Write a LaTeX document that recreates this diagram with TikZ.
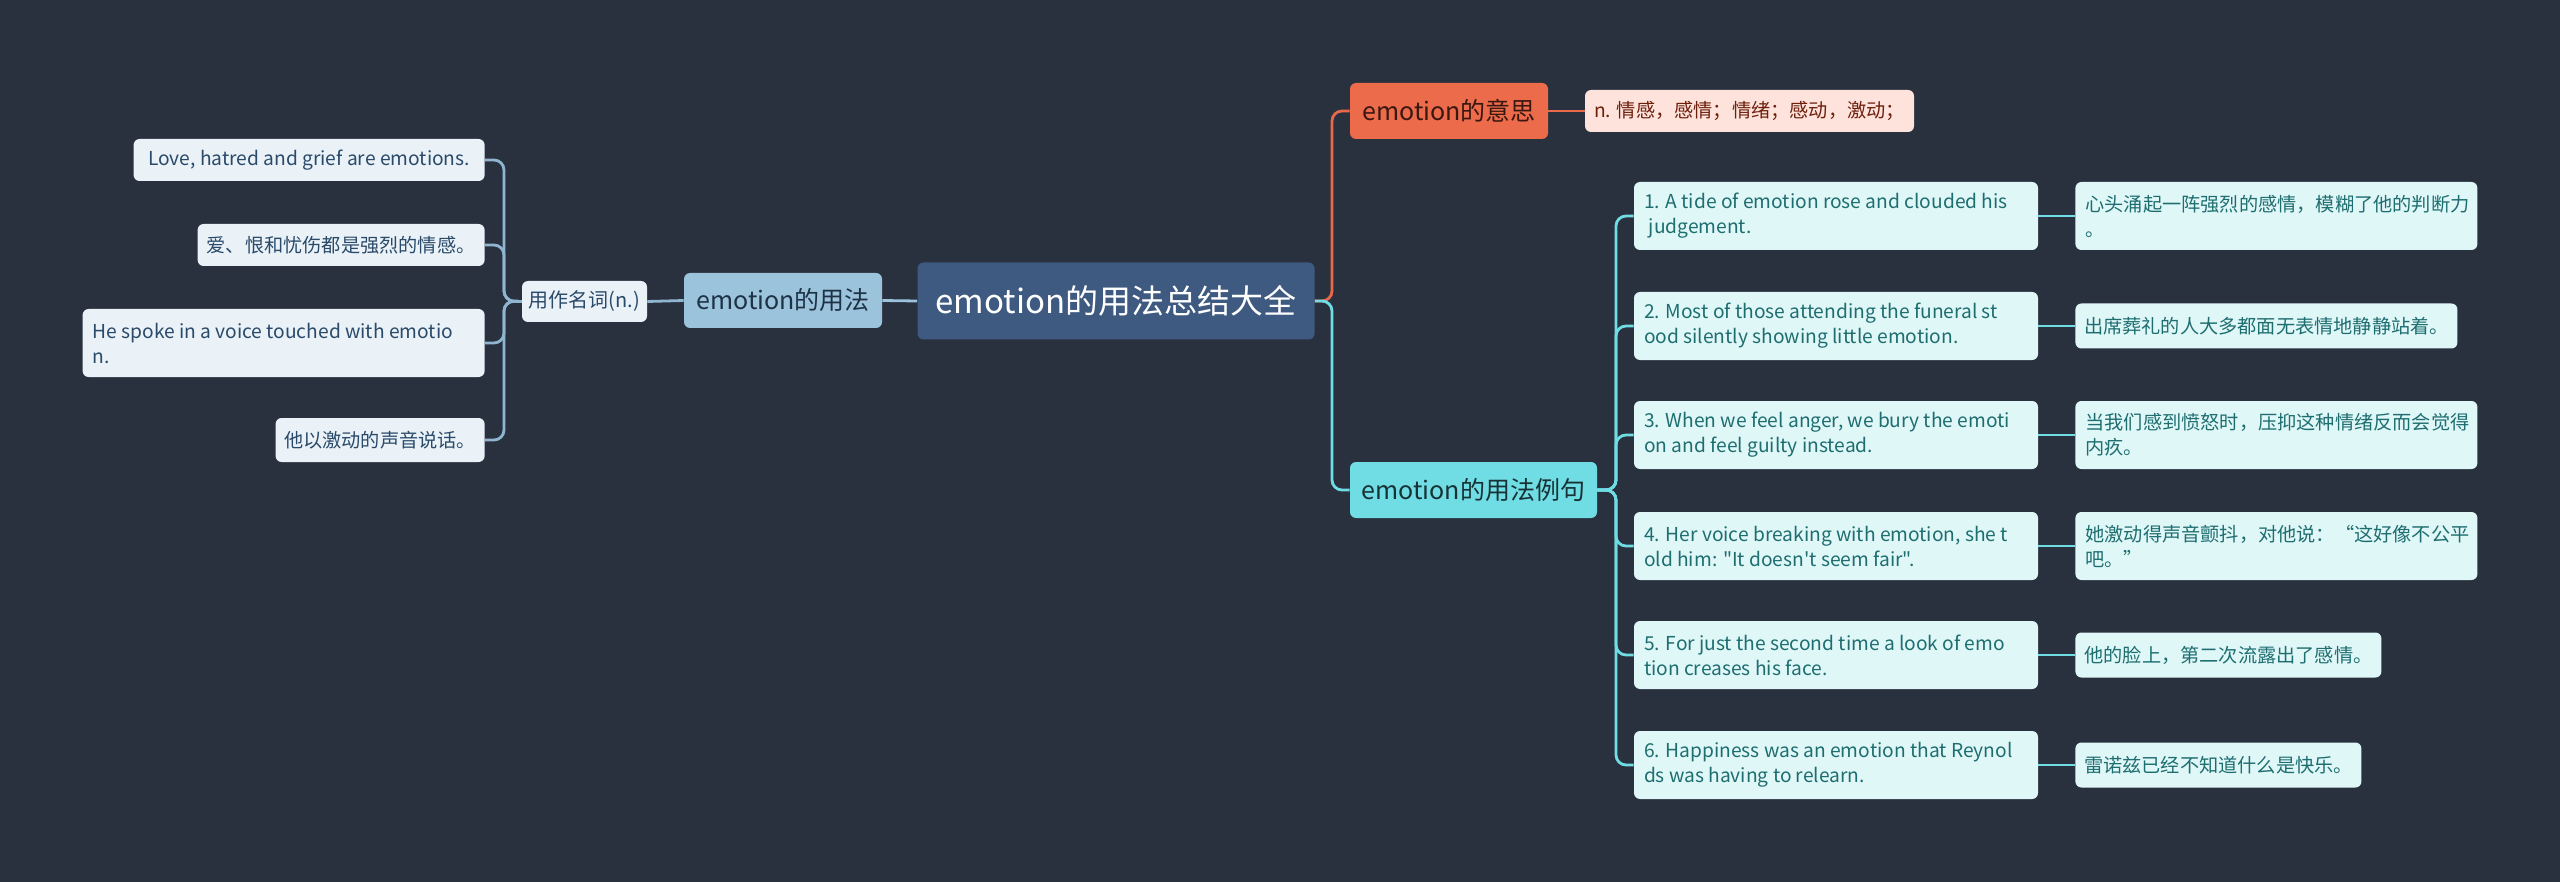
\documentclass[tikz,border=0pt]{standalone}
\usepackage{fontspec}
\setmainfont{Noto Sans CJK SC}[Ligatures=TeXOff]
\definecolor{bg}{HTML}{29313F}
\definecolor{cfill}{HTML}{3E5A80}
\definecolor{ufill}{HTML}{9CC3DC}
\definecolor{utext}{HTML}{1E3246}
\definecolor{lfill}{HTML}{EAF2F8}
\definecolor{ltext}{HTML}{2A4A6A}
\definecolor{ofill}{HTML}{EB6B4B}
\definecolor{otext}{HTML}{3A1710}
\definecolor{pfill}{HTML}{FDE3DC}
\definecolor{ptext}{HTML}{6E1F0C}
\definecolor{tfill}{HTML}{6FDDE3}
\definecolor{ttext}{HTML}{173236}
\definecolor{efill}{HTML}{E0F7F8}
\definecolor{etext}{HTML}{1E6E70}
\definecolor{lline}{HTML}{8FB5D0}
\definecolor{oline}{HTML}{E8694A}
\definecolor{tline}{HTML}{6FDDE3}
\begin{document}
\begin{tikzpicture}[x=0.5pt,y=-0.5pt,
  box/.style={rounded corners=3pt, inner sep=0pt, align=flush left},
  central/.style={box, fill=cfill, text=white, font=\fontsize{16.5pt}{20pt}\selectfont},
  main/.style={box, fill=#1, font=\fontsize{12.5pt}{15pt}\selectfont},
  leafl/.style={box, fill=lfill, text=ltext, font=\fontsize{9.6pt}{12.5pt}\selectfont},
  leafe/.style={box, fill=efill, text=etext, font=\fontsize{9.6pt}{12.5pt}\selectfont},
  conn/.style={line width=1.4pt, rounded corners=5pt, draw=#1}]
\fill[bg] (0,0) rectangle (2560,882);
\useasboundingbox (0,0) rectangle (2560,882);

% central
\node[central, minimum width=198.5pt, minimum height=38.5pt] (c) at (1116,301) {emotion的用法总结大全};

% left branch
\node[main=ufill, text=utext, minimum width=99pt, minimum height=27.5pt] (yf) at (783,300.5) {emotion的用法};
\node[leafl, minimum width=62.5pt, minimum height=20.5pt, font=\fontsize{10pt}{12pt}\selectfont] (yz) at (584.5,301.5) {用作名词(n.)};
\node[leafl, anchor=east, minimum width=175.5pt, minimum height=21pt] (l1) at (485,160) {Love, hatred and grief are emotions.};
\node[leafl, anchor=east, minimum width=143.5pt, minimum height=21pt] (l2) at (485,245) {爱、恨和忧伤都是强烈的情感。};
\node[leafl, anchor=east, text width=191pt, minimum width=201pt, minimum height=34pt] (l3) at (485,343) {He spoke in a voice touched with emotio\\n.};
\node[leafl, anchor=east, minimum width=104.5pt, minimum height=22pt] (l4) at (485,440) {他以激动的声音说话。};

\coordinate (jl) at (504,301);
\draw[conn=ufill] (c.west) -- (yf.east);
\draw[conn=lline] (yf.west) -- (yz.east);
\foreach \n in {l1,l2,l3,l4} \draw[conn=lline] (yz.west) -- (jl) |- (\n.east);

% right branch
\node[main=ofill, text=otext, minimum width=99pt, minimum height=28pt] (ys) at (1449,111) {emotion的意思};
\node[box, fill=pfill, text=ptext, font=\fontsize{9.6pt}{12.5pt}\selectfont, minimum width=164.5pt, minimum height=21pt] (nd) at (1749.5,111) {n. 情感，感情；情绪；感动，激动；};
\node[main=tfill, text=ttext, minimum width=123.5pt, minimum height=28pt] (lj) at (1473.5,490) {emotion的用法例句};

\tikzset{exbox/.style={leafe, text width=192pt, minimum width=202pt, minimum height=34pt}}
\node[exbox] (e1) at (1836,216) {1. A tide of emotion rose and clouded his\\\hspace*{0.25em}judgement.};
\node[exbox] (e2) at (1836,326) {2. Most of those attending the funeral st\\ood silently showing little emotion.};
\node[exbox] (e3) at (1836,435) {3. When we feel anger, we bury the emoti\\on and feel guilty instead.};
\node[exbox] (e4) at (1836,546) {4. Her voice breaking with emotion, she t\\old him: "It doesn't seem fair".};
\node[exbox] (e5) at (1836,655) {5. For just the second time a look of emo\\tion creases his face.};
\node[exbox] (e6) at (1836,765) {6. Happiness was an emotion that Reynol\\ds was having to relearn.};

\tikzset{trbox/.style={leafe, anchor=west, text width=191pt, minimum width=201pt, minimum height=34pt}}
\node[trbox] (t1) at (2075,216) {心头涌起一阵强烈的感情，模糊了他的判断力\\。};
\node[leafe, anchor=west, minimum width=191pt, minimum height=22.5pt] (t2) at (2075,326) {出席葬礼的人大多都面无表情地静静站着。};
\node[trbox] (t3) at (2075,435) {当我们感到愤怒时，压抑这种情绪反而会觉得\\内疚。};
\node[trbox] (t4) at (2075,546) {她激动得声音颤抖，对他说：“这好像不公平\\吧。”};
\node[leafe, anchor=west, minimum width=153pt, minimum height=22.5pt] (t5) at (2075,655) {他的脸上，第二次流露出了感情。};
\node[leafe, anchor=west, minimum width=143pt, minimum height=22.5pt] (t6) at (2075,765) {雷诺兹已经不知道什么是快乐。};

\coordinate (jr) at (1332,301);
\coordinate (je) at (1616,490);
\draw[conn=oline] (c.east) -- (jr) |- (ys.west);
\draw[conn=oline] (ys.east) -- (nd.west);
\draw[conn=tline] (c.east) -- (jr) |- (lj.west);
\foreach \n in {e1,e2,e3,e4,e5,e6} \draw[conn=tline] (lj.east) -- (je) |- (\n.west);
\foreach \i in {1,...,6} \draw[conn=tline] (e\i.east) -- (t\i.west);
\end{tikzpicture}
\end{document}
